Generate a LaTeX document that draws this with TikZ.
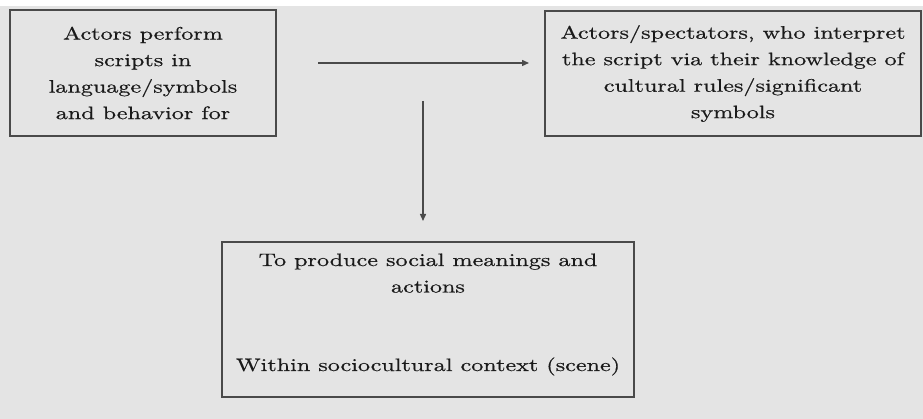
\documentclass[tikz,border=0pt]{standalone}
\usepackage{fontspec}
\setmainfont{lmroman10-regular.otf}[FakeStretch=1.34,FakeBold=0.6]
\usetikzlibrary{arrows.meta}
\definecolor{bg}{HTML}{E4E4E4}
\definecolor{edge}{HTML}{4A4A4A}
\definecolor{ink}{HTML}{1A1A1A}
\begin{document}
\begin{tikzpicture}[x=1pt,y=-1pt,
  box/.style={draw=edge,line width=1.6pt,fill=bg,inner sep=0pt,text=ink,
    font=\fontsize{18}{26.5}\selectfont,align=center},
  txt/.style={inner sep=0pt,text=ink,font=\fontsize{18}{26.5}\selectfont,align=center},
  conn/.style={draw=edge,line width=1.4pt,-{Triangle[length=7pt,width=6pt]}}]
\useasboundingbox (0,0) rectangle (923,419);
\fill[white] (0,0) rectangle (923,419);
\fill[bg] (0,6) rectangle (923,419);
\node[box,minimum width=266pt,minimum height=126pt] (perf) at (143,73)
  {Actors perform\\scripts in\\language/symbols\\and behavior for};
\node[box,minimum width=376pt,minimum height=125pt] (spec) at (733,73.5)
  {Actors/spectators, who interpret\\the script via their knowledge of\\cultural rules/significant\\symbols};
\node[box,minimum width=412pt,minimum height=155pt] (mean) at (428,319.5) {};
\node[txt] (meantext) at ([yshift=5pt]mean.center)
  {To produce social meanings and\\actions\\[52pt]Within sociocultural context (scene)};
\coordinate (hs) at (318,63);
\coordinate (he) at (529,63);
\coordinate (vs) at (423,101);
\coordinate (ve) at (423,221);
\draw[conn] (hs) -- (he);
\draw[conn] (vs) -- (ve);
\end{tikzpicture}
\end{document}
